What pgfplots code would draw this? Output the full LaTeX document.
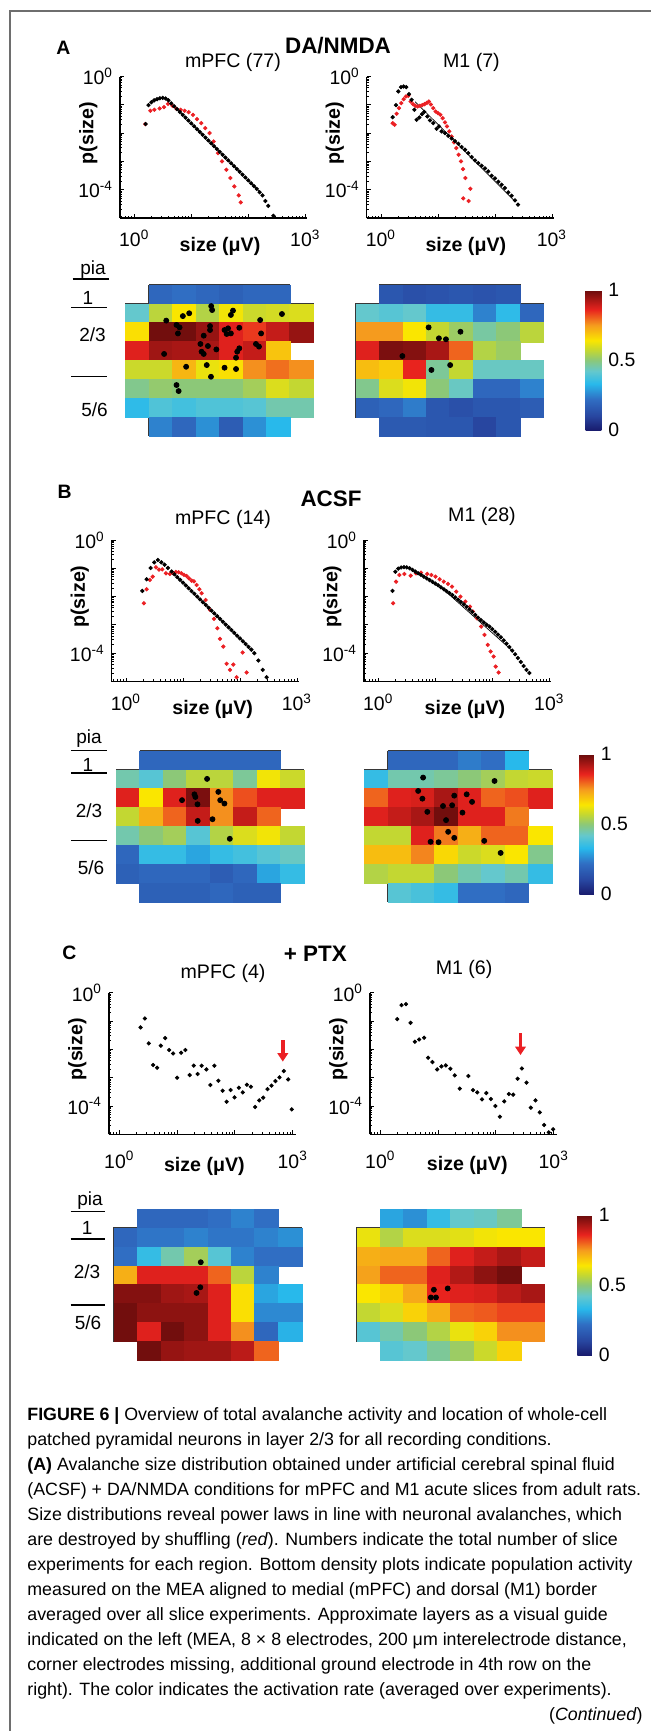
\documentclass[border=0pt]{standalone}
\usepackage{fontspec}
\setmainfont{Liberation Sans}
\usepackage{pgfplots}
\usepackage{pgfplotstable}
\pgfplotsset{compat=1.18}
\usetikzlibrary{arrows.meta}

\definecolor{dotred}{RGB}{235,32,36}
\definecolor{framegray}{RGB}{110,110,110}
\definecolor{meaedge}{RGB}{55,55,55}
\newcommand\fsz[1]{\fontsize{#1}{#1}\selectfont}

% activation maps: column, row, rate
\pgfplotstableread[row sep=\\]{
c r v\\
2 1 0.20\\ 3 1 0.22\\ 4 1 0.20\\ 5 1 0.18\\ 6 1 0.20\\ 7 1 0.20\\
1 2 0.42\\ 2 2 0.56\\ 3 2 0.64\\ 4 2 0.55\\ 5 2 0.63\\ 6 2 0.58\\ 7 2 0.59\\ 8 2 0.60\\
1 3 0.65\\ 2 3 0.99\\ 3 3 0.99\\ 4 3 0.95\\ 5 3 0.87\\ 6 3 0.84\\ 7 3 0.90\\ 8 3 0.95\\
1 4 0.87\\ 2 4 0.94\\ 3 4 0.93\\ 4 4 0.93\\ 5 4 0.87\\ 6 4 0.90\\ 7 4 0.69\\
1 5 0.58\\ 2 5 0.58\\ 3 5 0.71\\ 4 5 0.62\\ 5 5 0.65\\ 6 5 0.76\\ 7 5 0.79\\ 8 5 0.76\\
1 6 0.48\\ 2 6 0.51\\ 3 6 0.50\\ 4 6 0.50\\ 5 6 0.50\\ 6 6 0.53\\ 7 6 0.60\\ 8 6 0.57\\
1 7 0.34\\ 2 7 0.39\\ 3 7 0.37\\ 4 7 0.39\\ 5 7 0.39\\ 6 7 0.40\\ 7 7 0.45\\ 8 7 0.45\\
2 8 0.25\\ 3 8 0.20\\ 4 8 0.27\\ 5 8 0.17\\ 6 8 0.27\\ 7 8 0.33\\
}\heatAL
\pgfplotstableread[row sep=\\]{
c r v\\
2 1 0.15\\ 3 1 0.13\\ 4 1 0.14\\ 5 1 0.15\\ 6 1 0.14\\ 7 1 0.15\\
1 2 0.42\\ 2 2 0.40\\ 3 2 0.42\\ 4 2 0.35\\ 5 2 0.35\\ 6 2 0.25\\ 7 2 0.34\\ 8 2 0.20\\
1 3 0.75\\ 2 3 0.75\\ 3 3 0.64\\ 4 3 0.57\\ 5 3 0.52\\ 6 3 0.46\\ 7 3 0.50\\ 8 3 0.56\\
1 4 0.87\\ 2 4 0.98\\ 3 4 0.97\\ 4 4 0.93\\ 5 4 0.80\\ 6 4 0.55\\ 7 4 0.52\\
1 5 0.70\\ 2 5 0.68\\ 3 5 0.86\\ 4 5 0.47\\ 5 5 0.57\\ 6 5 0.43\\ 7 5 0.43\\ 8 5 0.43\\
1 6 0.48\\ 2 6 0.60\\ 3 6 0.63\\ 4 6 0.50\\ 5 6 0.43\\ 6 6 0.20\\ 7 6 0.20\\ 8 6 0.25\\
1 7 0.18\\ 2 7 0.20\\ 3 7 0.24\\ 4 7 0.15\\ 5 7 0.13\\ 6 7 0.15\\ 7 7 0.15\\ 8 7 0.17\\
2 8 0.16\\ 3 8 0.16\\ 4 8 0.15\\ 5 8 0.15\\ 6 8 0.10\\ 7 8 0.15\\
}\heatAR
\pgfplotstableread[row sep=\\]{
c r v\\
2 1 0.20\\ 3 1 0.20\\ 4 1 0.20\\ 5 1 0.20\\ 6 1 0.20\\ 7 1 0.20\\
1 2 0.45\\ 2 2 0.40\\ 3 2 0.50\\ 4 2 0.56\\ 5 2 0.56\\ 6 2 0.47\\ 7 2 0.63\\ 8 2 0.58\\
1 3 0.87\\ 2 3 0.64\\ 3 3 0.87\\ 4 3 0.98\\ 5 3 0.76\\ 6 3 0.82\\ 7 3 0.87\\ 8 3 0.87\\
1 4 0.57\\ 2 4 0.72\\ 3 4 0.80\\ 4 4 0.90\\ 5 4 0.76\\ 6 4 0.90\\ 7 4 0.80\\
1 5 0.45\\ 2 5 0.50\\ 3 5 0.53\\ 4 5 0.40\\ 5 5 0.55\\ 6 5 0.60\\ 7 5 0.63\\ 8 5 0.57\\
1 6 0.20\\ 2 6 0.35\\ 3 6 0.35\\ 4 6 0.30\\ 5 6 0.35\\ 6 6 0.37\\ 7 6 0.40\\ 8 6 0.43\\
1 7 0.18\\ 2 7 0.20\\ 3 7 0.20\\ 4 7 0.20\\ 5 7 0.17\\ 6 7 0.20\\ 7 7 0.30\\ 8 7 0.35\\
2 8 0.18\\ 3 8 0.18\\ 4 8 0.18\\ 5 8 0.20\\ 6 8 0.18\\ 7 8 0.18\\
}\heatBL
\pgfplotstableread[row sep=\\]{
c r v\\
2 1 0.20\\ 3 1 0.20\\ 4 1 0.20\\ 5 1 0.24\\ 6 1 0.22\\ 7 1 0.33\\
1 2 0.35\\ 2 2 0.45\\ 3 2 0.45\\ 4 2 0.47\\ 5 2 0.50\\ 6 2 0.53\\ 7 2 0.57\\ 8 2 0.58\\
1 3 0.80\\ 2 3 0.87\\ 3 3 0.88\\ 4 3 0.93\\ 5 3 0.87\\ 6 3 0.80\\ 7 3 0.82\\ 8 3 0.87\\
1 4 0.87\\ 2 4 0.90\\ 3 4 0.93\\ 4 4 0.99\\ 5 4 0.87\\ 6 4 0.87\\ 7 4 0.78\\
1 5 0.57\\ 2 5 0.57\\ 3 5 0.87\\ 4 5 0.78\\ 5 5 0.72\\ 6 5 0.80\\ 7 5 0.80\\ 8 5 0.64\\
1 6 0.70\\ 2 6 0.70\\ 3 6 0.77\\ 4 6 0.66\\ 5 6 0.58\\ 6 6 0.60\\ 7 6 0.64\\ 8 6 0.48\\
1 7 0.55\\ 2 7 0.57\\ 3 7 0.57\\ 4 7 0.50\\ 5 7 0.45\\ 6 7 0.42\\ 7 7 0.45\\ 8 7 0.35\\
2 8 0.40\\ 3 8 0.38\\ 4 8 0.35\\ 5 8 0.22\\ 6 8 0.22\\ 7 8 0.20\\
}\heatBR
\pgfplotstableread[row sep=\\]{
c r v\\
2 1 0.20\\ 3 1 0.20\\ 4 1 0.20\\ 5 1 0.22\\ 6 1 0.25\\ 7 1 0.22\\
1 2 0.20\\ 2 2 0.23\\ 3 2 0.23\\ 4 2 0.25\\ 5 2 0.23\\ 6 2 0.23\\ 7 2 0.25\\ 8 2 0.27\\
1 3 0.22\\ 2 3 0.35\\ 3 3 0.45\\ 4 3 0.53\\ 5 3 0.40\\ 6 3 0.25\\ 7 3 0.22\\ 8 3 0.22\\
1 4 0.72\\ 2 4 0.87\\ 3 4 0.87\\ 4 4 0.87\\ 5 4 0.80\\ 6 4 0.56\\ 7 4 0.25\\
1 5 0.97\\ 2 5 0.97\\ 3 5 0.94\\ 4 5 0.93\\ 5 5 0.87\\ 6 5 0.65\\ 7 5 0.30\\ 8 5 0.33\\
1 6 0.99\\ 2 6 0.96\\ 3 6 0.96\\ 4 6 0.96\\ 5 6 0.87\\ 6 6 0.65\\ 7 6 0.26\\ 8 6 0.26\\
1 7 0.99\\ 2 7 0.87\\ 3 7 0.99\\ 4 7 0.96\\ 5 7 0.87\\ 6 7 0.76\\ 7 7 0.20\\ 8 7 0.32\\
2 8 0.99\\ 3 8 0.95\\ 4 8 0.94\\ 5 8 0.94\\ 6 8 0.91\\ 7 8 0.80\\
}\heatCL
\pgfplotstableread[row sep=\\]{
c r v\\
2 1 0.30\\ 3 1 0.27\\ 4 1 0.35\\ 5 1 0.42\\ 6 1 0.43\\ 7 1 0.47\\
1 2 0.62\\ 2 2 0.55\\ 3 2 0.60\\ 4 2 0.60\\ 5 2 0.61\\ 6 2 0.63\\ 7 2 0.64\\ 8 2 0.64\\
1 3 0.72\\ 2 3 0.73\\ 3 3 0.73\\ 4 3 0.80\\ 5 3 0.87\\ 6 3 0.90\\ 7 3 0.93\\ 8 3 0.90\\
1 4 0.74\\ 2 4 0.80\\ 3 4 0.80\\ 4 4 0.87\\ 5 4 0.92\\ 6 4 0.96\\ 7 4 0.99\\
1 5 0.64\\ 2 5 0.67\\ 3 5 0.73\\ 4 5 0.86\\ 5 5 0.87\\ 6 5 0.88\\ 7 5 0.91\\ 8 5 0.93\\
1 6 0.57\\ 2 6 0.60\\ 3 6 0.67\\ 4 6 0.72\\ 5 6 0.80\\ 6 6 0.81\\ 7 6 0.83\\ 8 6 0.83\\
1 7 0.40\\ 2 7 0.45\\ 3 7 0.50\\ 4 7 0.55\\ 5 7 0.62\\ 6 7 0.67\\ 7 7 0.76\\ 8 7 0.76\\
2 8 0.40\\ 3 8 0.42\\ 4 8 0.47\\ 5 8 0.52\\ 6 8 0.58\\ 7 8 0.67\\
}\heatCR

\pgfplotsset{colormap={mea}{rgb255(0pt)=(25,28,110); rgb255(10pt)=(40,70,160); rgb255(22pt)=(48,110,195); rgb255(33pt)=(40,185,235); rgb255(42pt)=(100,200,205); rgb255(50pt)=(140,200,120); rgb255(57pt)=(195,215,50); rgb255(64pt)=(250,230,0); rgb255(75pt)=(245,155,30); rgb255(86pt)=(232,35,30); rgb255(100pt)=(105,12,12)}}

% shared option lists, expanded into the axis brackets below
\def\DistOpts{xmode=log, ymode=log, scale only axis, width=93.5pt, height=70.75pt,
    ymin=1e-5, ymax=1, axis x line*=bottom, axis y line*=left,
    axis line style={-, line width=0.6pt},
    tick align=inside, major tick length=2pt, minor tick length=1.1pt,
    tick style={black, line width=0.45pt},
    xtick={1,10,100,1000},
    xticklabels={10\textsuperscript{0},,,10\textsuperscript{3}},
    ytick={1e-5,1e-4,1e-3,1e-2,1e-1,1},
    yticklabels={,10\textsuperscript{-4},,,,10\textsuperscript{0}},
    minor xtick={0.6,0.7,0.8,0.9,2,3,4,5,6,7,8,9,20,30,40,50,60,70,80,90,200,300,400,500,600,700,800,900},
    minor ytick={2e-5,3e-5,4e-5,5e-5,6e-5,7e-5,8e-5,9e-5,2e-4,3e-4,4e-4,5e-4,6e-4,7e-4,8e-4,9e-4,2e-3,3e-3,4e-3,5e-3,6e-3,7e-3,8e-3,9e-3,0.02,0.03,0.04,0.05,0.06,0.07,0.08,0.09,0.2,0.3,0.4,0.5,0.6,0.7,0.8,0.9},
    tick label style={font=\fsz{9.7}},
    xlabel={size (μV)}, ylabel={p(size)},
    clip=false}
\def\HeatOpts{scale only axis, width=93.7pt, height=75.35pt,
    xmin=0.5, xmax=8.5, ymin=0.5, ymax=8.5, y dir=reverse, hide axis, clip=false,
    colormap name=mea, point meta min=0, point meta max=1}
\def\CellOpts{scatter, only marks, mark=square*, mark size=4.76pt, point meta=explicit,
    scatter/use mapped color={draw=mapped color, fill=mapped color},
    mark options={xscale=1.243, line width=0.1pt}}

\newcommand\DistAxis[1]{\edef\tmp{\noexpand\begin{axis}[\unexpanded\expandafter{\DistOpts}, \unexpanded{#1}]}\tmp}
\newcommand\HeatAxis[1]{\edef\tmp{\noexpand\begin{axis}[\unexpanded\expandafter{\HeatOpts}, \unexpanded{#1}]}\tmp}
\newcommand\Cells[1]{\edef\tmp{\noexpand\addplot[\unexpanded\expandafter{\CellOpts}] table[x=c, y=r, meta=v] {\noexpand#1};}\tmp}
\newcommand\meashape{\addplot[meaedge, line width=0.65pt, mark=none, line join=miter] coordinates {(1.5,0.5) (7.5,0.5) (7.5,1.5) (8.5,1.5) (8.5,3.5) (7.5,3.5) (7.5,4.5) (8.5,4.5) (8.5,7.5) (7.5,7.5) (7.5,8.5) (1.5,8.5) (1.5,7.5) (0.5,7.5) (0.5,1.5) (1.5,1.5) (1.5,0.5)};}

\begin{document}
\begin{tikzpicture}
\path[use as bounding box] (0,0) rectangle (325.5pt,-865.5pt);

% ---------------- A ----------------
\DistAxis{xmin=0.5623, xmax=1072, at={(60pt,-109pt)}, anchor=south west,
  xticklabel style={yshift=-2.5pt},
  label style={font=\fsz{9.8}\bfseries},
  xlabel style={at={(axis description cs:0.535,-0.2)}, anchor=center},
  ylabel style={at={(axis description cs:-0.17,0.6)}, anchor=center},
  title={mPFC (77)}, title style={font=\fsz{9.8}, anchor=center, at={(axis description cs:0.604,1.013)}}}
\addplot[black, line width=0.35pt, mark=none] coordinates {(4.467,0.1117) (158.5,8.51e-5)};
\addplot[only marks, mark=*, mark size=0.85pt, dotred] coordinates {(1.563,2.08e-2) (1.914,6.14e-2) (2.249,6.67e-2) (2.793,7.43e-2) (3.327,8.28e-2) (3.908,0.1084) (4.656,9.23e-2) (5.47,7.23e-2) (6.516,6.67e-2) (7.656,6.14e-2) (8.995,5.51e-2) (10.72,4.44e-2) (12.59,3.12e-2) (15.0,2.25e-2) (17.62,1.5e-2) (20.99,1e-2) (24.7,5.08e-3) (29.4,1.97e-3) (34.6,1e-3) (41.2,5.08e-4) (48.5,2.58e-4) (57.0,1.31e-4) (67.9,6.31e-5) (73.6,3.57e-5)};
\addplot[only marks, mark=*, mark size=0.85pt, black] coordinates {(1.585,2.09e-2) (1.778,9.77e-2) (1.995,0.123) (2.239,0.1445) (2.512,0.158) (2.818,0.170) (3.162,0.176) (3.548,0.168) (3.981,0.1445) (4.467,0.112) (5.012,8.87e-2) (5.623,7.03e-2) (6.310,5.57e-2) (7.079,4.43e-2) (7.943,3.51e-2) (8.913,2.79e-2) (10,2.21e-2) (11.22,1.75e-2) (12.59,1.39e-2) (14.13,1.10e-2) (15.85,8.75e-3) (17.78,6.94e-3) (19.95,5.50e-3) (22.39,4.37e-3) (25.12,3.46e-3) (28.18,2.75e-3) (31.62,2.18e-3) (35.48,1.73e-3) (39.81,1.37e-3) (44.67,1.09e-3) (50.12,8.63e-4) (56.23,6.84e-4) (63.10,5.42e-4) (70.79,4.31e-4) (79.43,3.41e-4) (89.13,2.71e-4) (100,2.15e-4) (112.2,1.70e-4) (125.9,1.35e-4) (141.3,1.07e-4) (158.5,8.13e-5) (177.8,6.31e-5) (199.5,3.98e-5) (223.9,2.69e-5) (275,1.20e-5)};
\end{axis}

\DistAxis{xmin=0.5623, xmax=1072, at={(183.35pt,-109pt)}, anchor=south west,
  xticklabel style={yshift=-2.5pt},
  label style={font=\fsz{9.8}\bfseries},
  xlabel style={at={(axis description cs:0.53,-0.2)}, anchor=center},
  ylabel style={at={(axis description cs:-0.17,0.6)}, anchor=center},
  title={M1 (7)}, title style={font=\fsz{9.8}, anchor=center, at={(axis description cs:0.56,1.013)}}}
\addplot[black, line width=0.35pt, mark=none] coordinates {(3.981,0.129) (223.9,3.89e-5)};
\addplot[only marks, mark=*, mark size=0.85pt, dotred] coordinates {(1.603,2.25e-2) (1.738,1.97e-2) (1.884,4.81e-2) (2.07,7.62e-2) (2.275,0.1146) (2.5,0.158) (2.748,0.197) (3.02,0.208) (3.311,0.131) (3.639,0.1057) (4.0,9.23e-2) (4.395,8.73e-2) (4.831,9.23e-2) (5.309,9.73e-2) (5.834,0.1057) (6.412,0.1178) (6.95,0.131) (7.534,0.1028) (8.28,7.62e-2) (9.1,5.82e-2) (10,5.08e-2) (10.99,4.44e-2) (12.08,3.38e-2) (13.27,2.38e-2) (14.39,1.72e-2) (15.81,1.15e-2) (17.38,7.62e-3) (19.1,4.69e-3) (20.99,2.96e-3) (23.07,1.72e-3) (25.35,1e-3) (27.48,5.36e-4) (30.2,2.58e-4) (36.9,1.08e-4) (27.8,4.94e-5) (34.5,3.98e-5)};
\addplot[only marks, mark=*, mark size=0.85pt, black] coordinates {(1.603,3.67e-2) (1.832,9.73e-2) (2.014,0.296) (2.244,0.421) (2.5,0.444) (2.78,0.421) (3.097,0.238) (3.451,0.15) (3.846,6.67e-2) (4.227,2.96e-2) (4.71,3.57e-2) (5.236,4.69e-2) (5.754,5.66e-2) (6.5,3.87e-2) (7.244,2.8e-2) (8.28,2.25e-2) (9.48,1.42e-2) (10.42,1.72e-2) (11.59,1.15e-2) (13.27,1e-2) (15.17,8.05e-3) (17.38,6.49e-3) (19.86,5.22e-3) (22.75,4.21e-3) (26.0,3.21e-3) (29.8,2.58e-3) (34.0,1.97e-3) (39.0,1.42e-3) (44.6,1.08e-3) (51.0,8.73e-4) (58.3,7.03e-4) (66.8,5.66e-4) (76.4,4.44e-4) (87.5,3.12e-4) (100,2.51e-4) (114.3,1.91e-4) (130.9,1.5e-4) (149.6,1.15e-4) (171.4,8.05e-5) (195.9,6.14e-5) (224.4,4.21e-5) (253.5,2.96e-5)};
\end{axis}

\HeatAxis{at={(62.85pt,-217.85pt)}, anchor=south west}
\Cells{\heatAL}
\meashape
\addplot[only marks, mark=*, mark size=1.25pt, black] coordinates {(2.23,2.39) (2.94,2.15) (3.21,2.0) (4.15,1.62) (4.19,1.83) (5.08,1.86) (4.99,2.09) (6.24,2.36) (7.17,2.04) (2.67,2.62) (2.80,2.75) (2.73,3.07) (4.10,2.68) (4.10,2.89) (4.72,2.89) (4.87,2.80) (4.99,3.07) (5.35,2.77) (6.28,3.07) (3.83,3.19) (4.01,3.74) (3.69,3.63) (3.74,4.04) (3.83,4.16) (4.37,3.92) (5.35,3.86) (5.26,4.04) (6.06,3.63) (6.19,3.77) (5.21,4.36) (2.14,4.16) (3.08,4.84) (3.96,4.75) (4.14,5.37) (4.72,4.89) (5.21,4.96) (2.67,5.81) (2.76,6.13) (4.81,3.10)};
\end{axis}

\HeatAxis{at={(178pt,-217.85pt)}, anchor=south west, colorbar,
  colorbar style={at={(parent axis.south east)}, anchor=south west, xshift=12.55pt, yshift=2.85pt, width=7.85pt,
    scale only axis, height=70pt, ytick={0,0.5,1}, yticklabels={0,0.5,1},
    yticklabel style={font=\fsz{9.7}}, major tick length=0pt, axis line style={draw=none}}}
\Cells{\heatAR}
\meashape
\addplot[only marks, mark=*, mark size=1.25pt, black] coordinates {(3.60,2.75) (4.04,3.33) (4.34,3.38) (4.96,2.98) (2.48,4.27) (3.72,5.01) (4.52,4.75)};
\end{axis}

% ---------------- B ----------------
\DistAxis{xmin=0.5623, xmax=1072, at={(55.85pt,-340.75pt)}, anchor=south west,
  xticklabel style={yshift=-2.5pt},
  label style={font=\fsz{9.8}\bfseries},
  xlabel style={at={(axis description cs:0.54,-0.2)}, anchor=center},
  ylabel style={at={(axis description cs:-0.17,0.6)}, anchor=center},
  title={mPFC (14)}, title style={font=\fsz{9.8}, anchor=center, at={(axis description cs:0.595,1.059)}}}
\addplot[black, line width=0.35pt, mark=none] coordinates {(6.31,7.71e-2) (158.5,1.34e-4)};
\addplot[only marks, mark=*, mark size=0.85pt, dotred] coordinates {(2.07,5.82e-3) (2.307,1.82e-2) (2.636,3.87e-2) (2.938,5.08e-2) (3.357,0.1084) (3.793,8.97e-2) (4.335,9.23e-2) (5.035,6.67e-2) (5.916,6.31e-2) (6.761,6.67e-2) (7.534,7.43e-2) (8.395,7.23e-2) (9.354,6.67e-2) (10.42,5.82e-2) (11.59,5.36e-2) (12.74,4.44e-2) (14.19,3.67e-2) (15.6,3.48e-2) (17.38,2.58e-2) (19.36,1.82e-2) (21.23,1.31e-2) (25.0,7.62e-3) (29.8,3.38e-3) (35.0,1.63e-3) (40.0,7.62e-4) (44.6,3.21e-4) (51.0,1.72e-4) (58.3,4.21e-5) (66.8,2.58e-5) (76.4,3.98e-5) (87.5,1.42e-5) (111.4,1.06e-4) (130.9,2.08e-5)};
\addplot[only marks, mark=*, mark size=0.85pt, black] coordinates {(1.936,1.585e-2) (2.307,4.09e-2) (2.71,0.1028) (3.141,0.163) (3.639,0.197) (4.169,0.163) (4.764,0.1346) (5.458,0.1028) (6.310,7.71e-2) (7.079,6.15e-2) (7.943,4.90e-2) (8.913,3.91e-2) (10,3.11e-2) (11.22,2.48e-2) (12.59,1.98e-2) (14.13,1.57e-2) (15.85,1.26e-2) (17.78,1.0e-2) (19.95,7.96e-3) (22.39,6.35e-3) (25.12,5.06e-3) (28.18,4.04e-3) (31.62,3.21e-3) (35.48,2.56e-3) (39.81,2.04e-3) (44.67,1.63e-3) (50.12,1.30e-3) (56.23,1.03e-3) (63.10,8.22e-4) (70.79,6.56e-4) (79.43,5.22e-4) (89.13,4.17e-4) (100,3.32e-4) (112.2,2.64e-4) (125.9,2.11e-4) (141.3,1.68e-4) (158.5,1.34e-4) (178.3,1e-4) (209.9,5.51e-5) (250,2.58e-5) (293.8,1.42e-5)};
\end{axis}

\DistAxis{xmin=0.5623, xmax=1072, at={(182pt,-340.75pt)}, anchor=south west,
  xticklabel style={yshift=-2.5pt},
  label style={font=\fsz{9.8}\bfseries},
  xlabel style={at={(axis description cs:0.54,-0.2)}, anchor=center},
  ylabel style={at={(axis description cs:-0.17,0.6)}, anchor=center},
  title={M1 (28)}, title style={font=\fsz{9.8}, anchor=center, at={(axis description cs:0.631,1.085)}}}
\addplot[black, line width=0.35pt, mark=none] coordinates {(12.59,2.14e-2) (223.9,1.23e-4)};
\addplot[only marks, mark=*, mark size=0.85pt, dotred] coordinates {(1.828,5.82e-3) (2.056,3.38e-2) (2.35,5.82e-2) (2.877,6.31e-2) (3.698,5.51e-2) (4.592,6.67e-2) (5.623,7.03e-2) (7.228,6.31e-2) (8.551,5.82e-2) (10.09,5.08e-2) (11.94,4.09e-2) (14.13,3.38e-2) (16.71,2.8e-2) (19.72,2.25e-2) (23.33,1.5e-2) (27.61,1e-2) (33.73,6.67e-3) (40.55,4.44e-3) (45.6,2.96e-3) (53.95,1.72e-3) (63.83,8.73e-4) (72.9,4.44e-4) (83.4,1.97e-4) (93.8,1.15e-4) (105.4,7.62e-5) (114.8,3.38e-5) (129.1,2.08e-5)};
\addplot[only marks, mark=*, mark size=0.85pt, black] coordinates {(1.778,1.585e-2) (1.995,7.59e-2) (2.239,9.77e-2) (2.512,0.107) (2.818,0.110) (3.162,0.108) (3.548,0.1) (3.981,8.81e-2) (4.467,7.67e-2) (5.012,6.68e-2) (5.623,5.82e-2) (6.310,5.08e-2) (7.079,4.43e-2) (7.943,3.85e-2) (8.913,3.33e-2) (10,2.90e-2) (11.22,2.51e-2) (12.59,2.14e-2) (14.13,1.82e-2) (15.85,1.55e-2) (17.78,1.33e-2) (19.95,1.13e-2) (22.39,9.33e-3) (25.12,7.76e-3) (28.18,6.46e-3) (31.62,5.37e-3) (35.48,4.37e-3) (39.81,3.55e-3) (44.67,2.88e-3) (50.12,2.26e-3) (56.23,1.82e-3) (63.10,1.48e-3) (70.79,1.23e-3) (79.43,1.02e-3) (89.13,8.71e-4) (100,7.08e-4) (112.2,5.69e-4) (125.9,4.57e-4) (141.3,3.67e-4) (158.5,2.85e-4) (177.8,2.19e-4) (199.5,1.66e-4) (223.9,1.23e-4) (251.2,9.23e-5) (281.8,6.76e-5) (316.2,4.90e-5) (354.8,3.55e-5) (398.1,2.57e-5) (446.7,2.0e-5)};
\end{axis}

\HeatAxis{at={(58.1pt,-450.85pt)}, anchor=south west}
\Cells{\heatBL}
\meashape
\addplot[only marks, mark=*, mark size=1.25pt, black] coordinates {(4.38,1.98) (3.84,2.80) (3.88,2.94) (3.97,3.33) (4.86,2.67) (4.94,3.11) (5.12,3.29) (3.31,3.11) (3.98,4.21) (4.61,4.12) (5.35,5.16)};
\end{axis}

\HeatAxis{at={(182.15pt,-450.85pt)}, anchor=south west, colorbar,
  colorbar style={at={(parent axis.south east)}, anchor=south west, xshift=5.3pt, yshift=3.7pt, width=7.25pt,
    scale only axis, height=70pt, ytick={0,0.5,1}, yticklabels={0,0.5,1},
    yticklabel style={font=\fsz{9.7}}, major tick length=0pt, axis line style={draw=none}}}
\Cells{\heatBR}
\meashape
\addplot[only marks, mark=*, mark size=1.25pt, black] coordinates {(3.01,1.91) (6.06,2.09) (2.80,2.62) (2.98,3.03) (4.34,2.87) (4.87,2.80) (5.10,3.20) (3.86,3.42) (4.25,3.38) (3.19,3.73) (3.99,4.17) (4.69,3.77) (4.08,4.79) (4.34,5.11) (3.33,5.32) (3.67,5.34) (5.62,5.27) (6.32,5.91)};
\end{axis}

% ---------------- C ----------------
\DistAxis{xmin=0.664, xmax=1138, at={(54.5pt,-567.15pt)}, anchor=south west,
  xticklabel style={yshift=-5pt},
  label style={font=\fsz{9.8}\bfseries},
  xlabel style={at={(axis description cs:0.51,-0.224)}, anchor=center},
  ylabel style={at={(axis description cs:-0.17,0.6)}, anchor=center},
  title={mPFC (4)}, title style={font=\fsz{9.8}, anchor=center, at={(axis description cs:0.61,1.055)}}}
\addplot[only marks, mark=*, mark size=0.85pt, black] coordinates {(2.33,5.97e-2) (2.77,0.124) (3.24,1.63e-2) (3.85,2.80e-3) (4.52,2.25e-3) (5.22,1.35e-2) (6.21,2.51e-2) (7.28,9.46e-3) (8.53,7.23e-3) (10,1e-3) (11.7,7.62e-3) (13.9,9.46e-3) (16.5,1.24e-3) (19.4,2.66e-3) (22.7,1.35e-3) (26.6,2.66e-3) (32.1,1.97e-3) (37.6,5.51e-4) (44.1,2.66e-3) (51.6,7.83e-4) (61.2,3.48e-4) (71.8,1.42e-4) (84.1,3.67e-4) (98.6,2.02e-4) (117,4.44e-4) (137,3.03e-4) (161,5.66e-4) (189,4.81e-4) (224,9.23e-5) (263,1.585e-4) (308,1.97e-4) (366,3.98e-4) (429,5.22e-4) (502,7.62e-4) (589,1.03e-3) (700,1.72e-3) (832,8.73e-4) (962,7.62e-5)};
\draw[dotred, line width=1.7pt, -{Triangle[width=5.2pt,length=4.2pt]}] (axis cs:673,0.0214) -- (axis cs:673,0.0037);
\end{axis}

\DistAxis{xmin=0.664, xmax=1138, at={(185pt,-567.15pt)}, anchor=south west,
  xticklabel style={yshift=-5pt},
  label style={font=\fsz{9.8}\bfseries},
  xlabel style={at={(axis description cs:0.52,-0.218)}, anchor=center},
  ylabel style={at={(axis description cs:-0.17,0.6)}, anchor=center},
  title={M1 (6)}, title style={font=\fsz{9.8}, anchor=center, at={(axis description cs:0.503,1.077)}}}
\addplot[only marks, mark=*, mark size=0.85pt, black] coordinates {(1.963,0.1178) (2.333,0.367) (2.774,0.398) (3.334,8.73e-2) (3.963,1.866e-2) (4.699,2.254e-2) (5.741,2.582e-2) (6.73,5.08e-3) (7.98,3.573e-3) (9.62,1.968e-3) (11.4,2.512e-3) (13.6,2.723e-3) (16.3,2.08e-3) (19.4,1.208e-3) (23.7,4.093e-4) (33.3,1.146e-3) (40.1,3.673e-4) (47.6,3.034e-4) (57.4,1.718e-4) (68.1,2.877e-4) (82.0,1.766e-4) (97.5,1e-4) (117,4.207e-5) (139,1.462e-4) (167,2.655e-4) (199,2.512e-4) (237,9.23e-4) (281,2.133e-3) (338,6.668e-4) (401,8.73e-5) (483,1.585e-4) (574,5.97e-5) (681,2.133e-5) (820,1.178e-5) (975,1.5e-5)};
\draw[dotred, line width=1.7pt, -{Triangle[width=5.2pt,length=4.2pt]}] (axis cs:266,0.0367) -- (axis cs:266,0.0063);
\end{axis}

\HeatAxis{at={(57.05pt,-680pt)}, anchor=south west}
\Cells{\heatCL}
\meashape
\addplot[only marks, mark=*, mark size=1.25pt, black] coordinates {(4.20,3.31) (4.18,4.64) (4.02,4.94)};
\end{axis}

\HeatAxis{at={(178.4pt,-680pt)}, anchor=south west, colorbar,
  colorbar style={at={(parent axis.south east)}, anchor=south west, xshift=8pt, yshift=2.5pt, width=7.25pt,
    scale only axis, height=70pt, ytick={0,0.5,1}, yticklabels={0,0.5,1},
    yticklabel style={font=\fsz{9.7}}, major tick length=0pt, axis line style={draw=none}}}
\Cells{\heatCR}
\meashape
\addplot[only marks, mark=*, mark size=1.25pt, black] coordinates {(3.79,4.77) (4.38,4.70) (3.66,5.18) (3.88,5.18)};
\end{axis}

% ---------------- frame, headings, layer guide, caption ----------------
\begin{scope}[x=0.5pt, y=-0.5pt]
\draw[framegray, line width=0.75pt] (10,1731) -- (10,11) -- (651,11);

\node[font=\fsz{9.7}\bfseries] at (63.3,47.5) {A};
\node[font=\fsz{11.2}\bfseries] at (338,46) {DA/NMDA};
\node[font=\fsz{9.7}\bfseries] at (64.7,491.5) {B};
\node[font=\fsz{11.2}\bfseries] at (331,498.5) {ACSF};
\node[font=\fsz{9.7}\bfseries] at (69.5,953) {C};
\node[font=\fsz{11.2}\bfseries] at (315.3,954) {+ PTX};

\begin{scope}[font=\fsz{9.5}, line width=0.6pt]
\node at (93,270) {pia};   \draw (72.6,279) -- (108.7,279);
\node at (88,297.5) {1};   \draw (71,307.3) -- (107,307.3);
\node at (92.5,335) {2/3}; \draw (71,376.7) -- (107,376.7);
\node at (94.6,409.3) {5/6};
\node at (89,739) {pia};   \draw (71.4,750.5) -- (106.6,750.5);
\node at (88,765) {1};     \draw (71.4,773) -- (106.6,773);
\node at (89,811) {2/3};   \draw (71.4,840.7) -- (106.6,840.7);
\node at (91,868) {5/6};
\node at (90,1201) {pia};  \draw (70.5,1211.7) -- (104.6,1211.7);
\node at (87.2,1228) {1};  \draw (70.5,1239) -- (104.6,1239);
\node at (87,1272) {2/3};  \draw (70.5,1305) -- (104.6,1305);
\node at (88,1323) {5/6};
\end{scope}

\begin{scope}[every node/.style={anchor=base west, inner sep=0pt, font=\fsz{8.9}}]
\node at (27,1420.7) {\textbf{FIGURE 6 |} Overview of total avalanche activity and location of whole-cell};
\node at (27,1445.7) {patched pyramidal neurons in layer 2/3 for all recording conditions.};
\node at (27,1470.7) {\textbf{(A)} Avalanche size distribution obtained under artificial cerebral spinal fluid};
\node at (27,1495.7) {(ACSF) + DA/NMDA conditions for mPFC and M1 acute slices from adult rats.};
\node at (27,1520.7) {Size distributions reveal power laws in line with neuronal avalanches, which};
\node at (27,1545.7) {are destroyed by shuffling (\textit{red}). Numbers indicate the total number of slice};
\node at (27,1570.7) {experiments for each region. Bottom density plots indicate population activity};
\node at (27,1595.7) {measured on the MEA aligned to medial (mPFC) and dorsal (M1) border};
\node at (27,1620.7) {averaged over all slice experiments. Approximate layers as a visual guide};
\node at (27,1645.7) {indicated on the left (MEA, 8 × 8 electrodes, 200 μm interelectrode distance,};
\node at (27,1670.7) {corner electrodes missing, additional ground electrode in 4th row on the};
\node at (27,1695.7) {right). The color indicates the activation rate (averaged over experiments).};
\node[anchor=base east] at (643,1720.7) {(\textit{Continued})};
\end{scope}
\end{scope}
\end{tikzpicture}
\end{document}
